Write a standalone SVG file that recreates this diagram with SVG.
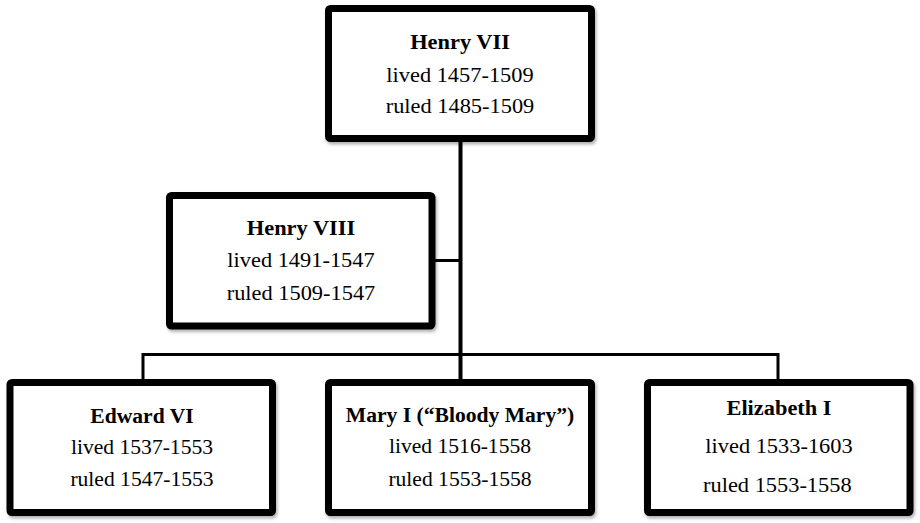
<svg xmlns="http://www.w3.org/2000/svg" width="920" height="523" viewBox="0 0 920 523">
<style>
.box{fill:#fff;stroke:#000;stroke-width:7;filter:url(#sh)}
.ln{stroke:#000;fill:none}
text{font-family:"Liberation Serif","Times New Roman",serif;font-size:20px;fill:#000;text-anchor:middle}
.b{font-weight:bold}
</style>
<defs>
<filter id="sh" x="-5%" y="-5%" width="115%" height="120%">
<feDropShadow dx="1.5" dy="2.5" stdDeviation="1.5" flood-color="#000" flood-opacity="0.3"/>
</filter>
</defs>
<rect width="920" height="523" fill="#fff"/>
<g id="connectors">
<line class="ln" x1="460.5" y1="139" x2="460.5" y2="382" stroke-width="4"/>
<line class="ln" x1="432" y1="260.5" x2="460.5" y2="260.5" stroke-width="3"/>
<polyline class="ln" points="143,382 143,354.5 778,354.5 778,382" stroke-width="3"/>
</g>
<g id="henry7">
<rect class="box" x="328.5" y="8.5" width="263" height="130" rx="2"/>
<g transform="translate(460,0) scale(1.12,1)">
<text class="b" x="0" y="49">Henry VII</text>
<text x="0" y="82">lived 1457-1509</text>
<text x="0" y="113">ruled 1485-1509</text>
</g>
</g>
<g id="henry8">
<rect class="box" x="169.5" y="195.5" width="262.5" height="130.5" rx="2"/>
<g transform="translate(301,0) scale(1.12,1)">
<text class="b" x="0" y="235">Henry VIII</text>
<text x="0" y="267">lived 1491-1547</text>
<text x="0" y="300">ruled 1509-1547</text>
</g>
</g>
<g id="edward6">
<rect class="box" x="10" y="382.5" width="262.5" height="130" rx="2"/>
<g transform="translate(142,0) scale(1.08,1)">
<text class="b" x="0" y="423">Edward VI</text>
<text x="0" y="454">lived 1537-1553</text>
<text x="0" y="486">ruled 1547-1553</text>
</g>
</g>
<g id="mary1">
<rect class="box" x="328.5" y="382.5" width="263" height="130" rx="2"/>
<g transform="translate(460,0) scale(1.08,1)">
<text class="b" x="0" y="422">Mary I (“Bloody Mary”)</text>
<text x="0" y="453">lived 1516-1558</text>
<text x="0" y="486">ruled 1553-1558</text>
</g>
</g>
<g id="elizabeth1">
<rect class="box" x="647.5" y="382.5" width="262.5" height="130" rx="2"/>
<g transform="translate(779,0) scale(1.12,1)">
<text class="b" x="0" y="415">Elizabeth I</text>
<text x="0" y="453">lived 1533-1603</text>
<text x="-1.5" y="492">ruled 1553-1558</text>
</g>
</g>
</svg>
